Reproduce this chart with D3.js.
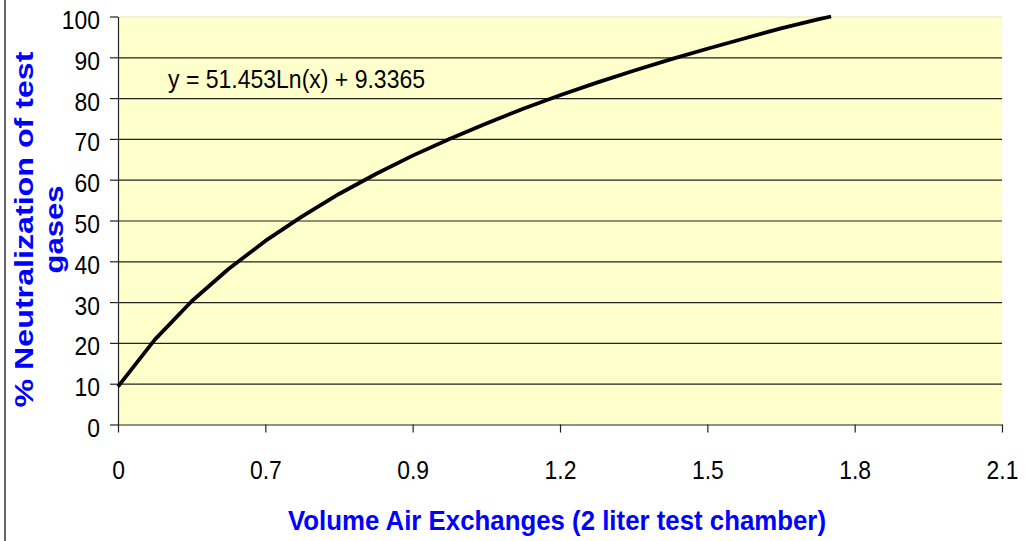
<!DOCTYPE html>
<html>
<head>
<meta charset="utf-8">
<script src="https://cdn.jsdelivr.net/npm/d3@7"></script>
<style>
  body { margin: 0; background: #fff; }
  svg { display: block; }
  text { font-family: "Liberation Sans", Arial, sans-serif; }
</style>
</head>
<body>
<div id="container"></div>
<script>
"use strict";

// category labels on the x axis (Excel line chart, labels on the ticks)
const xLabels = ["0", "0.7", "0.9", "1.2", "1.5", "1.8", "2.1"];
const yTicks = [0, 10, 20, 30, 40, 50, 60, 70, 80, 90, 100];

// points: position along the category axis, % neutralization
const curvePos = [0, 0.25, 0.5, 0.75, 1, 1.25, 1.5, 1.75, 2, 2.25, 2.5, 2.75, 3, 3.25, 3.5, 3.75, 4, 4.25, 4.5, 4.75, 4.84];
const curveVal = [9.3, 20.8, 30.2, 38.1, 45.0, 51.0, 56.5, 61.4, 65.9, 70.0, 73.8, 77.4, 80.7, 83.8, 86.7, 89.5, 92.1, 94.6, 97.1, 99.3, 100];

const equation = "y = 51.453Ln(x) + 9.3365";
const xTitle = "Volume Air Exchanges (2 liter test chamber)";
const yTitle = ["% Neutralization of test", "gases"];

var margin = { top: 16.5, left: 118 },
  width = 884,
  height = 408;

var svg = d3
  .select("#container")
  .append("svg")
  .attr("width", 1036)
  .attr("height", 541);

// outer chart border, only the left edge shows in the picture
svg
  .append("line")
  .attr("x1", 5).attr("x2", 5)
  .attr("y1", 0).attr("y2", 541)
  .attr("stroke", "#666")
  .attr("stroke-width", 2);

var g = svg
  .append("g")
  .attr("transform", "translate(" + margin.left + "," + margin.top + ")");

var x = d3.scaleLinear().domain([0, xLabels.length - 1]).range([0, width]);
var y = d3.scaleLinear().domain([0, 100]).range([height, 0]);

// the labels in the picture are a bit narrow, squeeze them
function narrow(sel) {
  sel.each(function () {
    d3.select(this)
      .attr("textLength", this.getComputedTextLength() * 0.88)
      .attr("lengthAdjust", "spacingAndGlyphs");
  });
}

// plot background
g.append("rect")
  .attr("width", width)
  .attr("height", height)
  .attr("fill", "#ffffcc");

// gridlines
g.append("g")
  .attr("class", "grid")
  .call(d3.axisLeft(y).tickValues(yTicks.slice(1)).tickSize(-width).tickFormat(""))
  .call(function (s) {
    s.select(".domain").remove();
    s.selectAll(".tick line")
      .attr("stroke", function (d) { return d === 100 ? "#e4e4d0" : "#222"; })
      .attr("stroke-width", 1.2);
  });

// y axis
g.append("g")
  .call(d3.axisLeft(y).tickValues(yTicks).tickSize(8).tickSizeOuter(0).tickPadding(10))
  .call(function (s) {
    s.select(".domain").attr("stroke", "#222").attr("stroke-width", 1.2);
    s.selectAll(".tick line").attr("stroke", "#222").attr("stroke-width", 1.2);
    s.selectAll("text")
      .attr("font-size", 26)
      .attr("font-family", null)
      .attr("fill", "#000")
      .attr("dy", 12)
      .call(narrow);
  });

// x axis
g.append("g")
  .attr("transform", "translate(0," + height + ")")
  .call(
    d3.axisBottom(x)
      .tickValues(d3.range(xLabels.length))
      .tickFormat(function (i) { return xLabels[i]; })
      .tickSize(8)
      .tickSizeOuter(0)
  )
  .call(function (s) {
    s.select(".domain").attr("stroke", "#222").attr("stroke-width", 1.2);
    s.selectAll(".tick line").attr("stroke", "#222").attr("stroke-width", 1.2);
    s.selectAll("text")
      .attr("font-size", 26)
      .attr("font-family", null)
      .attr("fill", "#000")
      .attr("y", 54.5)
      .attr("dy", 0)
      .call(narrow);
  });

// the curve
var line = d3
  .line()
  .x(function (d) { return x(d[0]); })
  .y(function (d) { return y(d[1]); });

g.append("path")
  .datum(d3.zip(curvePos, curveVal))
  .attr("fill", "none")
  .attr("stroke", "#000")
  .attr("stroke-width", 3.8)
  .attr("stroke-linejoin", "round")
  .attr("d", line);

// trendline equation
svg
  .append("text")
  .attr("x", 168)
  .attr("y", 87.5)
  .attr("font-size", 26)
  .attr("textLength", 257)
  .attr("lengthAdjust", "spacingAndGlyphs")
  .text(equation);

// axis titles
svg
  .append("text")
  .attr("x", 288)
  .attr("y", 530)
  .attr("font-size", 28)
  .attr("font-weight", "bold")
  .attr("fill", "#0000ff")
  .attr("textLength", 538)
  .attr("lengthAdjust", "spacingAndGlyphs")
  .text(xTitle);

var yt = svg
  .append("g")
  .attr("transform", "translate(0,229.5) rotate(-90)");

yt.selectAll("text")
  .data(yTitle)
  .enter()
  .append("text")
  .attr("x", 0)
  .attr("y", function (d, i) { return i === 0 ? 33 : 63; })
  .attr("text-anchor", "middle")
  .attr("font-size", 25)
  .attr("font-weight", "bold")
  .attr("fill", "#0000ff")
  .attr("textLength", function (d, i) { return i === 0 ? 356 : 88; })
  .attr("lengthAdjust", "spacingAndGlyphs")
  .text(function (d) { return d; });
</script>
</body>
</html>
